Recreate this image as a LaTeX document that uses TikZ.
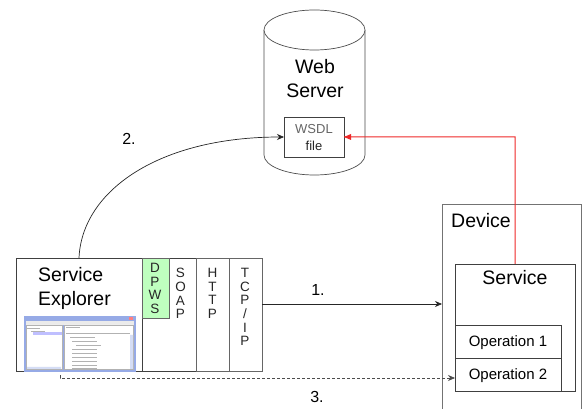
\documentclass[tikz,border=0pt]{standalone}
\usepackage{fontspec}
\setmainfont{Liberation Sans}
\usetikzlibrary{arrows.meta}
\definecolor{redline}{RGB}{238,40,40}
\definecolor{winblue}{RGB}{150,170,230}
\tikzset{
  x=1pt,y=-1pt,
  box/.style={draw=black!75,line width=0.8pt,fill=white,inner sep=0pt,outer sep=0pt},
  big/.style={font=\fontsize{19.5}{24.5}\selectfont,align=center,inner sep=0pt},
  med/.style={font=\fontsize{15}{18}\selectfont,align=center,inner sep=0pt},
  stack/.style={font=\fontsize{13.5}{13.7}\selectfont,align=center,inner sep=0pt,anchor=north,text=black!85},
  lab/.style={font=\fontsize{16}{18}\selectfont,inner sep=0pt},
  conn/.style={draw=black!85,line width=0.7pt,-{Stealth[length=7pt,width=6pt]}},
}
\begin{document}
\begin{tikzpicture}
\useasboundingbox (0,0) rectangle (582,409);
% web server cylinder
\draw[black!70,line width=0.7pt,fill=white] (264,30) -- (264,155) arc[start angle=180,end angle=360,x radius=50.5,y radius=-20] -- (365,30);
\draw[black!70,line width=0.7pt,fill=white] (314.5,30) ellipse[x radius=50.5,y radius=20];
\node[big] (web) at (315,78.5) {Web\\Server};
\node[box,minimum width=60pt,minimum height=40pt] (wsdl) at (314,137) {};
\node[font=\fontsize{13}{17.5}\selectfont,align=center,text=black!60,inner sep=0pt] (wsdltxt) at (314,137.5) {WSDL\\{\color{black!85}file}};
% device
\draw[black!55,line width=0.8pt] (442,409) -- (442,204) -- (581.5,204) -- (581.5,409);
\coordinate (devL) at (442,304);
\node[big,anchor=west] (device) at (451,221) {Device};
\node[box,minimum width=120pt,minimum height=127pt] (service) at (515,327.5) {};
\node[big] (servicetxt) at (515,278) {Service};
\node[box,minimum width=106pt,minimum height=33pt] (op1) at (508,341.5) {};
\node[med] at ([yshift=-1pt]op1.center) {Operation 1};
\node[box,minimum width=106pt,minimum height=33pt] (op2) at (508,374.5) {};
\node[med] at ([yshift=-1pt]op2.center) {Operation 2};
% service explorer
\node[box,minimum width=126pt,minimum height=113pt] (explorer) at (79,314.5) {};
\node[big,align=left,anchor=north west] (extxt) at (38,267) {Service\\Explorer};
\node[box,minimum width=54pt,minimum height=113pt] (soap) at (169,314.5) {};
\node[box,draw=black!60,fill=green!25!white,minimum width=27pt,minimum height=60pt] (dpws) at (156,288) {};
\node[box,draw=black!60,minimum width=33pt,minimum height=113pt] (http) at (212.5,314.5) {};
\node[box,draw=black!60,minimum width=33pt,minimum height=113pt] (tcp) at (245.5,314.5) {};
\node[stack] at (155,263) {D\\P\\W\\S};
\node[stack] at (180.5,268) {S\\O\\A\\P};
\node[stack] at (212.5,268) {H\\T\\T\\P};
\node[stack] at (245,268) {T\\C\\P\\/\\I\\P};
% screenshot
\node[draw=winblue,fill=winblue,line width=0.5pt,minimum width=111pt,minimum height=55pt,inner sep=0pt] (shot) at (79.5,343.5) {};
\fill[black!8] (25.5,321) rectangle (133.5,325);
\fill[red!50] (129,317.5) rectangle (133,320);
\fill[white] (26,325) rectangle (62,369) (64,325) rectangle (133,369);
\draw[black!30,line width=0.4pt] (26,325) rectangle (62,369) (64,325) rectangle (133,369);
\fill[blue!25] (33,332) rectangle (62,335);
\draw[black!30,line width=0.7pt] (27,328) -- (40,328) (31,331) -- (45,331) (66,327) -- (80,327) (66,333) -- (130,333);
\foreach \yy/\xx in {337/70,341/72,345/76,349/72,353/72,357/72,361/72,365/72,368/72}
  \draw[black!30,line width=0.7pt] (\xx,\yy) -- (\xx+25,\yy);
\fill[winblue!40] (130,335) rectangle (133,369) (27,367) rectangle (61,369);
% labels
\node[lab] (l1) at (318,290) {1.};
\node[lab] (l2) at (129,139) {2.};
\node[lab] (l3) at (317,397) {3.};
% connectors
\coordinate (curvestart) at (79,258);
\draw[conn] (curvestart) .. controls (82,190) and (160,137) .. (wsdl.west);
\coordinate (arrowstart) at (262,304);
\draw[conn] (arrowstart) -- (devL);
\coordinate (redstart) at (515,264);
\coordinate (redbend) at (515,137);
\fill[redline] ([xshift=-.5pt]redstart) -- ([xshift=-.5pt,yshift=-.5pt]redbend) -- ([yshift=-.5pt]wsdl.east) -- ([yshift=.5pt]wsdl.east) -- ([xshift=.5pt,yshift=.5pt]redbend) -- ([xshift=.5pt]redstart) -- cycle;
\fill[redline] (wsdl.east) -- ([xshift=7pt,yshift=3pt]wsdl.east) -- ([xshift=7pt,yshift=-3pt]wsdl.east) -- cycle;
\coordinate (dashstart) at (60,375);
\draw[conn,draw=black!70,dash pattern=on 3pt off 2pt] (dashstart) -- (60,378) -- (op2.west |- 60,378);
\end{tikzpicture}
\end{document}
